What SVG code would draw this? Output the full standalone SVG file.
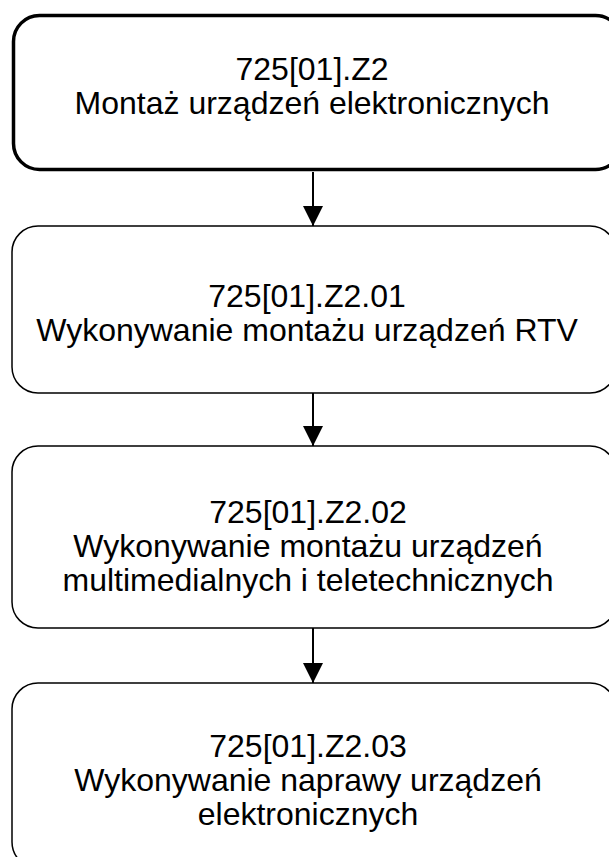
<svg xmlns="http://www.w3.org/2000/svg" width="609" height="857" viewBox="0 0 609 857">
<style>
.box{fill:#fff;stroke:#000;stroke-width:1.5}
.main{fill:#fff;stroke:#000;stroke-width:3.5}
.t{font-family:"Liberation Sans",Arial,sans-serif;font-size:32px;fill:#000;text-anchor:middle}
.c{stroke:#000;stroke-width:2;fill:none}
</style>
<defs>
<marker id="ah" markerWidth="20" markerHeight="20" refX="20" refY="10" orient="auto" markerUnits="userSpaceOnUse">
<path d="M0,0 L20,10 L0,20 Z" fill="#000"/>
</marker>
</defs>
<rect width="609" height="857" fill="#fff"/>
<g id="connectors">
<line class="c" x1="313" y1="172" x2="313" y2="226" marker-end="url(#ah)"/>
<line class="c" x1="313" y1="393" x2="313" y2="446" marker-end="url(#ah)"/>
<line class="c" x1="313" y1="628" x2="313" y2="683" marker-end="url(#ah)"/>
</g>
<g id="n0">
<rect class="main" x="13.5" y="15.5" width="608" height="154" rx="26" ry="26"/>
<text class="t" x="312" y="80">725[01].Z2</text>
<text class="t" x="312" y="114">Montaż urządzeń elektronicznych</text>
</g>
<g id="n1">
<rect class="box" x="12" y="226" width="604" height="167" rx="26" ry="26"/>
<text class="t" x="307" y="307">725[01].Z2.01</text>
<text class="t" x="307" y="341">Wykonywanie montażu urządzeń RTV</text>
</g>
<g id="n2">
<rect class="box" x="12" y="446" width="604" height="182" rx="26" ry="26"/>
<text class="t" x="308" y="523">725[01].Z2.02</text>
<text class="t" x="308" y="557">Wykonywanie montażu urządzeń</text>
<text class="t" x="308" y="591">multimedialnych i teletechnicznych</text>
</g>
<g id="n3">
<rect class="box" x="12" y="683" width="604" height="185" rx="26" ry="26"/>
<text class="t" x="308" y="757">725[01].Z2.03</text>
<text class="t" x="308" y="791">Wykonywanie naprawy urządzeń</text>
<text class="t" x="308" y="825">elektronicznych</text>
</g>
</svg>
